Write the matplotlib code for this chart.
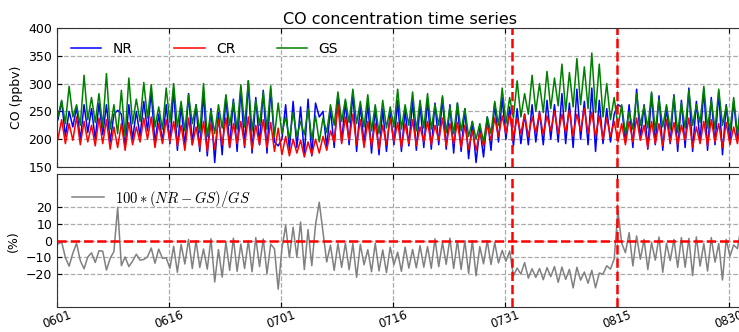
# CO concentration time series: NR, CR, GS sites and relative NR-GS difference
import numpy as np
import pandas as pd
import matplotlib.pyplot as plt
import matplotlib.dates as mdates

plt.rcParams['mathtext.fontset'] = 'cm'

# 12-hourly values (night low, day high), 1 June - 31 August
gs = [240, 270, 228, 295, 240, 262, 225, 315, 235, 275, 230, 282, 222, 318, 218, 262,
      210, 288, 205, 310, 228, 272, 232, 302, 238, 298, 222, 258, 218, 292, 230, 300,
      222, 268, 215, 280, 228, 262, 212, 300, 205, 252, 210, 262, 220, 280, 225, 268,
      218, 298, 222, 305, 215, 270, 225, 285, 218, 296, 205, 265, 210, 240, 200, 248,
      205, 232, 208, 255, 200, 242, 195, 238, 212, 262, 225, 285, 232, 272, 230, 290,
      228, 268, 222, 280, 215, 262, 210, 270, 220, 258, 222, 290, 218, 262, 225, 285,
      215, 270, 220, 282, 218, 262, 225, 278, 212, 258, 210, 265, 215, 255, 205, 232,
      200, 228, 195, 240, 210, 268, 225, 292, 228, 275, 238, 305, 240, 282, 245, 315,
      250, 300, 248, 322, 255, 310, 260, 335, 250, 320, 258, 345, 262, 330, 255, 355,
      248, 335, 240, 300, 235, 275, 222, 262, 210, 250, 218, 282, 225, 260, 220, 285,
      215, 272, 222, 262, 218, 278, 212, 265, 220, 288, 225, 262, 230, 295, 220, 270,
      218, 290, 225, 260, 215, 275, 210, 258]

nr = [235, 268, 205, 250, 222, 258, 198, 262, 212, 255, 200, 265, 208, 262, 195, 245,
      252, 245, 185, 262, 200, 250, 205, 268, 215, 285, 192, 245, 195, 262, 192, 290,
      180, 262, 185, 282, 190, 262, 178, 285, 170, 255, 158, 248, 172, 278, 185, 272,
      178, 292, 185, 305, 175, 275, 190, 288, 175, 290, 195, 188, 200, 262, 180, 268,
      185, 258, 172, 272, 170, 265, 240, 250, 185, 255, 185, 280, 195, 268, 190, 285,
      178, 262, 190, 265, 175, 258, 172, 255, 178, 248, 190, 270, 178, 252, 188, 270,
      180, 262, 185, 272, 182, 265, 190, 275, 182, 262, 175, 265, 178, 255, 165, 232,
      158, 220, 168, 240, 180, 265, 195, 275, 200, 258, 188, 255, 192, 245, 190, 262,
      195, 250, 190, 270, 200, 262, 195, 282, 192, 265, 185, 290, 200, 268, 190, 292,
      178, 270, 192, 255, 195, 245, 262, 258, 195, 262, 185, 290, 200, 262, 182, 282,
      190, 278, 180, 258, 192, 280, 178, 270, 185, 292, 178, 268, 195, 290, 180, 275,
      190, 285, 172, 262, 195, 268, 200, 280]

cr = [200, 235, 192, 228, 198, 240, 190, 232, 195, 225, 188, 238, 192, 235, 182, 222,
      185, 228, 180, 230, 190, 222, 195, 238, 200, 240, 185, 228, 192, 235, 195, 232,
      188, 225, 180, 238, 190, 222, 185, 232, 178, 228, 182, 235, 190, 238, 185, 228,
      192, 232, 188, 240, 182, 225, 190, 235, 185, 230, 178, 220, 172, 205, 170, 200,
      175, 198, 168, 195, 172, 200, 175, 205, 180, 215, 195, 262, 192, 240, 198, 245,
      190, 235, 185, 232, 188, 228, 182, 225, 190, 238, 195, 230, 185, 228, 192, 235,
      188, 222, 195, 232, 190, 225, 198, 238, 188, 228, 192, 230, 185, 225, 182, 215,
      180, 212, 188, 225, 198, 238, 205, 242, 210, 245, 205, 238, 210, 245, 205, 240,
      212, 248, 208, 242, 215, 250, 210, 245, 212, 252, 205, 245, 215, 255, 210, 248,
      205, 242, 200, 238, 205, 232, 195, 228, 190, 232, 195, 238, 198, 225, 185, 232,
      192, 228, 188, 235, 195, 230, 190, 225, 198, 238, 185, 222, 192, 232, 188, 235,
      195, 228, 185, 230, 190, 222, 192, 238]

times = pd.date_range('2015-06-01 03:00', periods=len(gs), freq='12h')
tick_dates = pd.date_range('2015-06-01', periods=7, freq='15D')
event_dates = pd.to_datetime(['2015-08-01', '2015-08-15'])

nr = np.array(nr, dtype=float)
gs = np.array(gs, dtype=float)
cr = np.array(cr, dtype=float)
diff = 100 * (nr - gs) / gs

fig = plt.figure(figsize=(7.39, 3.32), dpi=100)
ax1 = fig.add_axes([0.0771, 0.497, 0.9296, 0.4187])
ax2 = fig.add_axes([0.0771, 0.074, 0.9296, 0.402])

# top panel
ax1.plot(times, nr, color='#0000ff', lw=1.1, label='NR')
ax1.plot(times, cr, color='#ff0000', lw=1.1, label='CR')
ax1.plot(times, gs, color='#008000', lw=1.1, label='GS')
ax1.set_ylim(150, 400)
ax1.set_yticks([150, 200, 250, 300, 350, 400])
ax1.set_ylabel('CO (ppbv)', fontsize=9)
ax1.set_title('CO concentration time series', fontsize=11.5, pad=3)
ax1.legend(loc='upper left', ncol=3, frameon=False, fontsize=10,
           handlelength=2.2, columnspacing=3.0, borderaxespad=0.6)

# bottom panel
ax2.plot(times, diff, color='gray', lw=1.1, label=r'$100*(NR-GS)/GS$')
ax2.axhline(0, color='#ff0000', ls='--', lw=1.8)
ax2.set_ylim(-40, 40)
ax2.set_yticks([-20, -10, 0, 10, 20])
ax2.set_ylabel('(%)', fontsize=9)
ax2.legend(loc='upper left', frameon=False, fontsize=10.5,
           handlelength=2.2, borderaxespad=0.6)

for ax in (ax1, ax2):
    for d in event_dates:
        ax.axvline(d, color='#ff0000', ls='--', lw=1.8)
    ax.set_xlim(pd.Timestamp('2015-06-01'), pd.Timestamp('2015-09-01'))
    ax.set_xticks(tick_dates)
    ax.xaxis.set_major_formatter(mdates.DateFormatter('%m%d'))
    ax.grid(True, color='#aaaaaa', ls='--', lw=0.9)
    ax.tick_params(direction='in', labelsize=9, top=True, right=True)
    for s in ax.spines.values():
        s.set_color('#333333')

ax1.tick_params(labelbottom=False)
ax2.tick_params(axis='x', pad=1, labelsize=8.5)
for lab in ax2.get_xticklabels():
    lab.set_rotation(20)
    lab.set_ha('center')

fig.savefig('out.png', dpi=100)
